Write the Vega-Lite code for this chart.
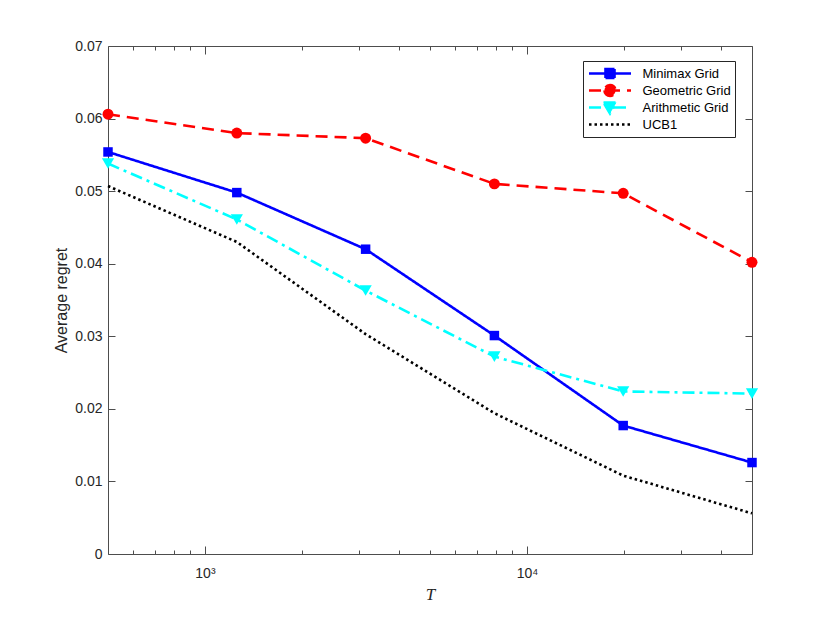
{
  "$schema": "https://vega.github.io/schema/vega-lite/v6.json",
  "description": "Average regret versus T for several grid policies and UCB1.",
  "width": 644,
  "height": 508,
  "autosize": {"type": "none"},
  "padding": {"left": 108, "top": 46, "right": 78, "bottom": 69},
  "background": "white",
  "data": {
    "values": [
      {"T": 500, "method": "Minimax Grid", "regret": 0.0554},
      {"T": 1256, "method": "Minimax Grid", "regret": 0.0498},
      {"T": 3155, "method": "Minimax Grid", "regret": 0.042},
      {"T": 7924, "method": "Minimax Grid", "regret": 0.0301},
      {"T": 19905, "method": "Minimax Grid", "regret": 0.0177},
      {"T": 50000, "method": "Minimax Grid", "regret": 0.0126},
      {"T": 500, "method": "Geometric Grid", "regret": 0.0606},
      {"T": 1256, "method": "Geometric Grid", "regret": 0.058},
      {"T": 3155, "method": "Geometric Grid", "regret": 0.0573},
      {"T": 7924, "method": "Geometric Grid", "regret": 0.051},
      {"T": 19905, "method": "Geometric Grid", "regret": 0.0497},
      {"T": 50000, "method": "Geometric Grid", "regret": 0.0402},
      {"T": 500, "method": "Arithmetic Grid", "regret": 0.0538},
      {"T": 1256, "method": "Arithmetic Grid", "regret": 0.0461},
      {"T": 3155, "method": "Arithmetic Grid", "regret": 0.0363},
      {"T": 7924, "method": "Arithmetic Grid", "regret": 0.0272},
      {"T": 19905, "method": "Arithmetic Grid", "regret": 0.0224},
      {"T": 50000, "method": "Arithmetic Grid", "regret": 0.0221},
      {"T": 500, "method": "UCB1", "regret": 0.0507},
      {"T": 1256, "method": "UCB1", "regret": 0.043},
      {"T": 3155, "method": "UCB1", "regret": 0.0303},
      {"T": 7924, "method": "UCB1", "regret": 0.0194},
      {"T": 19905, "method": "UCB1", "regret": 0.0108},
      {"T": 50000, "method": "UCB1", "regret": 0.0056}
    ]
  },
  "resolve": {"axis": {"x": "independent", "y": "independent"}},
  "layer": [
    {
      "mark": {"type": "line", "strokeWidth": 2.6, "clip": false},
      "encoding": {
        "x": {
          "field": "T",
          "type": "quantitative",
          "scale": {"type": "log", "domain": [500, 50000], "nice": false},
          "axis": {
            "values": [600, 700, 800, 900, 1000, 2000, 3000, 4000, 5000, 6000, 7000, 8000, 9000, 10000, 20000, 30000, 40000],
            "labelExpr": "datum.value === 1000 ? '10³' : datum.value === 10000 ? '10⁴' : ''",
            "tickSize": {"condition": {"test": "datum.value === 1000 || datum.value === 10000", "value": -8}, "value": -4},
            "labelPadding": 20,
            "labelFontSize": 14,
            "title": "T",
            "titleFont": "Liberation Serif",
            "titleFontStyle": "italic",
            "titleFontWeight": "normal",
            "titleFontSize": 17,
            "titlePadding": 6
          }
        },
        "y": {
          "field": "regret",
          "type": "quantitative",
          "scale": {"domain": [0, 0.07], "nice": false},
          "axis": {
            "values": [0, 0.01, 0.02, 0.03, 0.04, 0.05, 0.06, 0.07],
            "labelExpr": "datum.value === 0 ? '0' : format(datum.value, '.2f')",
            "tickSize": -7,
            "labelPadding": 13,
            "labelFontSize": 14,
            "title": "Average regret",
            "titleFontWeight": "normal",
            "titleFontSize": 16,
            "titlePadding": 5
          }
        },
        "color": {
          "field": "method",
          "type": "nominal",
          "scale": {
            "domain": ["Minimax Grid", "Geometric Grid", "Arithmetic Grid", "UCB1"],
            "range": ["#0000ff", "#ff0000", "#00ffff", "#000000"]
          },
          "legend": {
            "orient": "none",
            "legendX": 475,
            "legendY": 15,
            "title": null,
            "fillColor": "white",
            "strokeColor": "#262626",
            "padding": 4,
            "labelFont": "Liberation Sans",
            "labelFontSize": 13,
            "labelColor": "#000000",
            "symbolSize": 144,
            "symbolStrokeWidth": 2.6,
            "symbolOffset": 15.5,
            "labelOffset": 25,
            "clipHeight": 17,
            "rowPadding": 0,
            "encode": {
              "symbols": {
                "update": {
                  "shape": {"signal": "datum.value === 'Minimax Grid' ? 'M-3.5,0H3.5M-0.75,-0.75H0.75V0.75H-0.75Z' : datum.value === 'Geometric Grid' ? 'M-3.5,0H3.5M-0.92,0A0.92,0.92,0,1,0,0.92,0A0.92,0.92,0,1,0,-0.92,0Z' : datum.value === 'Arithmetic Grid' ? 'M-3.5,0H3.5M-1.08,-0.83L1.08,-0.83L0,1Z' : 'M-3.5,0H3.5'"},
                  "fill": {"signal": "datum.value === 'Minimax Grid' ? '#0000ff' : datum.value === 'Geometric Grid' ? '#ff0000' : datum.value === 'Arithmetic Grid' ? '#00ffff' : 'transparent'"},
                  "strokeDash": {"signal": "datum.value === 'Geometric Grid' ? [12, 7] : datum.value === 'Arithmetic Grid' ? [12, 5, 3, 5] : datum.value === 'UCB1' ? [2.5, 3] : [1, 0]"}
                }
              }
            }
          }
        },
        "strokeDash": {
          "field": "method",
          "type": "nominal",
          "scale": {
            "domain": ["Minimax Grid", "Geometric Grid", "Arithmetic Grid", "UCB1"],
            "range": [[1, 0], [12, 7], [12, 5, 3, 5], [2.5, 3]]
          },
          "legend": null
        }
      }
    },
    {
      "transform": [{"filter": "datum.method !== 'UCB1'"}],
      "mark": {"type": "point", "filled": true, "opacity": 1, "strokeWidth": 0, "clip": false},
      "encoding": {
        "x": {
          "field": "T",
          "type": "quantitative",
          "scale": {"type": "log", "domain": [500, 50000], "nice": false},
          "axis": {
            "values": [600, 700, 800, 900, 1000, 2000, 3000, 4000, 5000, 6000, 7000, 8000, 9000, 10000, 20000, 30000, 40000],
            "labels": false,
            "tickSize": {"condition": {"test": "datum.value === 1000 || datum.value === 10000", "value": -8}, "value": -4},
            "title": null
          }
        },
        "y": {
          "field": "regret",
          "type": "quantitative",
          "scale": {"domain": [0, 0.07], "nice": false},
          "axis": {
            "values": [0, 0.01, 0.02, 0.03, 0.04, 0.05, 0.06, 0.07],
            "labels": false,
            "tickSize": -7,
            "title": null
          }
        },
        "fill": {
          "field": "method",
          "type": "nominal",
          "scale": {
            "domain": ["Minimax Grid", "Geometric Grid", "Arithmetic Grid"],
            "range": ["#0000ff", "#ff0000", "#00ffff"]
          },
          "legend": null
        },
        "shape": {
          "field": "method",
          "type": "nominal",
          "scale": {
            "domain": ["Minimax Grid", "Geometric Grid", "Arithmetic Grid"],
            "range": ["square", "circle", "triangle-down"]
          },
          "legend": null
        },
        "size": {
          "field": "method",
          "type": "nominal",
          "scale": {
            "domain": ["Minimax Grid", "Geometric Grid", "Arithmetic Grid"],
            "range": [90, 150, 170]
          },
          "legend": null
        }
      }
    }
  ],
  "config": {
    "view": {"stroke": null},
    "axis": {
      "grid": false,
      "domainColor": "#4d4d4d",
      "domainWidth": 1,
      "tickColor": "#4d4d4d",
      "tickWidth": 1,
      "labelColor": "#262626",
      "titleColor": "#262626",
      "labelFont": "Liberation Sans",
      "titleFont": "Liberation Sans"
    }
  }
}
